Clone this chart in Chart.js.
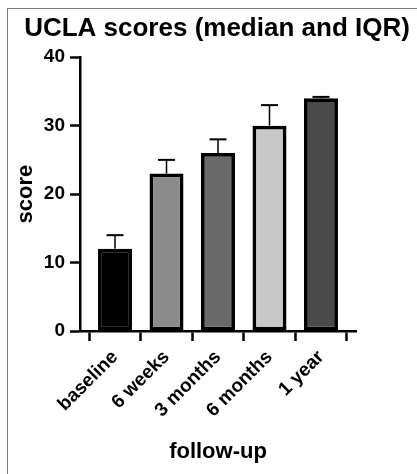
<!DOCTYPE html>
<html><head><meta charset="utf-8">
<script src="https://cdn.jsdelivr.net/npm/chart.js@4/dist/chart.umd.min.js"></script>
<style>
html,body{margin:0;padding:0;background:#fff;}
#wrap{position:relative;width:417px;height:474px;overflow:hidden;background:#fff;}
#frame{position:absolute;left:7px;top:8px;right:-5px;bottom:-5px;border-left:1px solid #7a7a7a;border-top:1px solid #7a7a7a;pointer-events:none;}
canvas{position:absolute;left:0;top:0;}
</style></head><body>
<div id="wrap"><canvas id="c" width="417" height="474"></canvas><div id="frame"></div></div>
<script>
const categories = ['baseline', '6 weeks', '3 months', '6 months', '1 year'];
const medians = [12, 23, 26, 30, 34];
const upperIQR = [14, 25, 28, 33, 34.2];
const barColors = ['#000000', '#8a8a8a', '#6a6a6a', '#c8c8c8', '#4a4a4a'];
const yTicks = [0, 10, 20, 30, 40];

const FONT = "'Liberation Sans', Arial, sans-serif";

const errorBars = {
  id: 'errorBars',
  afterDatasetsDraw(chart) {
    const {ctx, scales: {x, y}} = chart;
    ctx.save();
    ctx.strokeStyle = '#000';
    medians.forEach((m, i) => {
      const px = x.getPixelForValue(i);
      const yTop = y.getPixelForValue(upperIQR[i]);
      const yMed = y.getPixelForValue(m);
      ctx.lineWidth = 1.5;
      ctx.beginPath(); ctx.moveTo(px, yMed); ctx.lineTo(px, yTop); ctx.stroke();
      ctx.lineWidth = 2;
      ctx.beginPath(); ctx.moveTo(px - 8.5, yTop); ctx.lineTo(px + 8.5, yTop); ctx.stroke();
    });
    ctx.restore();
  }
};

new Chart(document.getElementById('c'), {
  type: 'bar',
  data: {
    datasets: [{
      data: categories.map((c, i) => ({x: i, y: medians[i]})),
      backgroundColor: barColors,
      borderColor: '#000',
      borderWidth: 3.8,
      borderSkipped: false,
      categoryPercentage: 1,
      barPercentage: 0.66
    }]
  },
  options: {
    responsive: false,
    animation: false,
    devicePixelRatio: 1,
    layout: {padding: {top: 13, left: 17, right: 0, bottom: 5}},
    plugins: {
      legend: {display: false},
      tooltip: {enabled: false},
      title: {
        display: true,
        text: 'UCLA scores (median and IQR)',
        color: '#000',
        fullSize: true,
        font: {family: FONT, size: 26, weight: 'bold'},
        padding: {top: 0, bottom: 13}
      }
    },
    scales: {
      x: {
        type: 'linear',
        min: -0.68,
        max: 4.68,
        offset: false,
        afterFit(s) { s.height = 138; },
        border: {display: true, color: '#000', width: 2.5},
        grid: {display: true, drawOnChartArea: false, drawTicks: true, tickLength: 10, tickColor: '#000', tickWidth: 2.5},
        ticks: {
          stepSize: 1,
          includeBounds: false,
          autoSkip: false,
          maxRotation: 45,
          minRotation: 45,
          padding: 5,
          color: '#000',
          font: {family: FONT, size: 19, weight: 'bold'},
          callback: (v) => categories[v]
        },
        title: {display: true, text: 'follow-up', color: '#000', font: {family: FONT, size: 22, weight: 'bold'}, padding: {top: 4, bottom: 4}}
      },
      y: {
        min: 0,
        max: 40,
        afterFit(s) { s.width = 63; },
        afterBuildTicks(s) { s.ticks = yTicks.map(v => ({value: v})); },
        border: {display: true, color: '#000', width: 2.5},
        grid: {display: true, drawOnChartArea: false, drawTicks: true, tickLength: 10, tickColor: '#000', tickWidth: 2.5},
        ticks: {padding: 5, color: '#000', font: {family: FONT, size: 19, weight: 'bold'}},
        title: {display: true, text: 'score', color: '#000', font: {family: FONT, size: 22, weight: 'bold'}, padding: {top: -4, bottom: 4}}
      },
      rightSpace: {
        type: 'linear',
        position: 'right',
        display: true,
        afterFit(s) { s.width = 61; },
        border: {display: false},
        grid: {display: false},
        ticks: {display: false}
      }
    }
  },
  plugins: [errorBars]
});
</script>
</body></html>
